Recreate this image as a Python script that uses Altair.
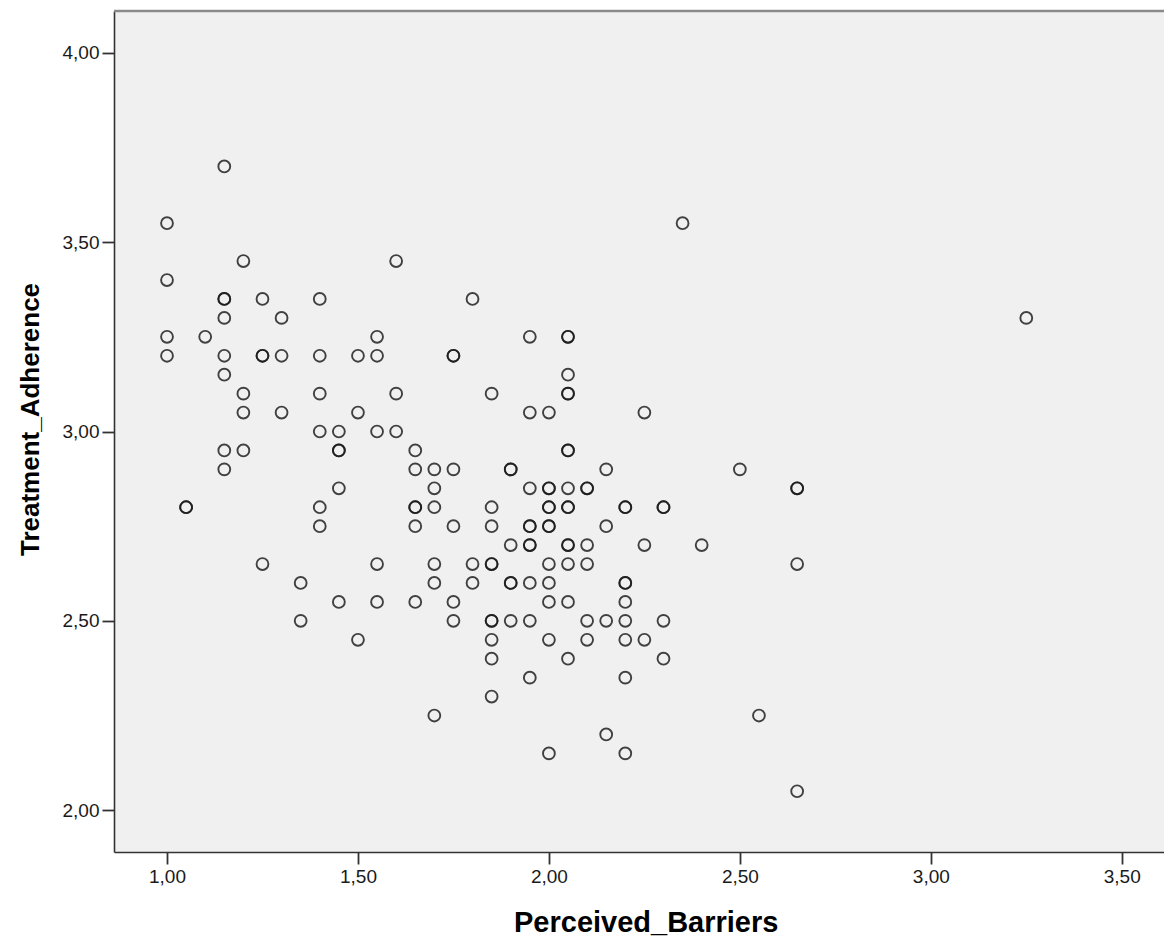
import altair as alt
import pandas as pd

# Scatter data (duplicates = darker/overlapping circles)
perceived_barriers = [
    1.15,
    1.00, 2.35,
    1.20, 1.60,
    1.00,
    1.15, 1.15, 1.25, 1.40, 1.80,
    1.15, 1.30, 3.25,
    1.00, 1.10, 1.55, 1.95, 2.05, 2.05,
    1.00, 1.15, 1.25, 1.25, 1.30, 1.40, 1.50, 1.55, 1.75, 1.75,
    1.15, 2.05,
    1.20, 1.40, 1.60, 1.85, 2.05, 2.05,
    1.20, 1.30, 1.50, 1.95, 2.00, 2.25,
    1.40, 1.45, 1.55, 1.60,
    1.15, 1.20, 1.45, 1.45, 1.65, 2.05, 2.05,
    1.15, 1.65, 1.70, 1.75, 1.90, 1.90, 2.15, 2.50,
    1.45, 1.70, 1.95, 2.00, 2.00, 2.05, 2.10, 2.10, 2.65, 2.65,
    1.05, 1.05, 1.40, 1.65, 1.65, 1.70, 1.85, 2.00, 2.00, 2.05, 2.05, 2.20, 2.20, 2.30, 2.30,
    1.40, 1.65, 1.75, 1.85, 1.95, 1.95, 2.00, 2.00, 2.15,
    1.90, 1.95, 1.95, 2.05, 2.05, 2.10, 2.25, 2.40,
    1.25, 1.55, 1.70, 1.80, 1.85, 1.85, 2.00, 2.05, 2.10, 2.65,
    1.35, 1.70, 1.80, 1.90, 1.90, 1.95, 2.00, 2.20, 2.20,
    1.45, 1.55, 1.65, 1.75, 2.00, 2.05, 2.20,
    1.35, 1.75, 1.85, 1.85, 1.90, 1.95, 2.10, 2.15, 2.20, 2.30,
    1.50, 1.85, 2.00, 2.10, 2.20, 2.25,
    1.85, 2.05, 2.30,
    1.95, 2.20,
    1.85,
    1.70, 2.55,
    2.15,
    2.00, 2.20,
    2.65,
]
treatment_adherence = (
    [3.70]
    + [3.55] * 2
    + [3.45] * 2
    + [3.40] * 1
    + [3.35] * 5
    + [3.30] * 3
    + [3.25] * 6
    + [3.20] * 10
    + [3.15] * 2
    + [3.10] * 6
    + [3.05] * 6
    + [3.00] * 4
    + [2.95] * 7
    + [2.90] * 8
    + [2.85] * 10
    + [2.80] * 15
    + [2.75] * 9
    + [2.70] * 8
    + [2.65] * 10
    + [2.60] * 9
    + [2.55] * 7
    + [2.50] * 10
    + [2.45] * 6
    + [2.40] * 3
    + [2.35] * 2
    + [2.30] * 1
    + [2.25] * 2
    + [2.20] * 1
    + [2.15] * 2
    + [2.05] * 1
)

x_ticks = [1.0, 1.5, 2.0, 2.5, 3.0, 3.5]
y_ticks = [2.0, 2.5, 3.0, 3.5, 4.0]
x_domain = [0.8612, 3.6106]
y_domain = [1.8896, 4.1104]

df = pd.DataFrame({
    "Perceived_Barriers": perceived_barriers,
    "Treatment_Adherence": treatment_adherence,
})

W, H = 1050, 841
label_expr = "replace(format(datum.value, '.2f'), '.', ',')"

common_axis = dict(
    grid=False,
    domainColor="#333333",
    domainWidth=1.6,
    tickColor="#333333",
    tickWidth=1.8,
    tickSize=12,
    labelFont="Liberation Sans",
    labelFontSize=19,
    labelColor="#1a1a1a",
    titleFont="Liberation Sans",
    titleFontWeight="bold",
    titleColor="#000000",
    labelExpr=label_expr,
)

points = alt.Chart(df).mark_point(
    shape="circle", filled=False, size=140, strokeWidth=1.9,
    color="#1a1a1a", opacity=0.82,
).encode(
    x=alt.X(
        "Perceived_Barriers:Q",
        scale=alt.Scale(domain=x_domain, nice=False, zero=False),
        axis=alt.Axis(
            values=x_ticks, title="Perceived_Barriers", labelPadding=3,
            titleFontSize=29,
            titleX=531.7, titleY=79, titleBaseline="alphabetic", titleAlign="center",
            **common_axis,
        ),
    ),
    y=alt.Y(
        "Treatment_Adherence:Q",
        scale=alt.Scale(domain=y_domain, nice=False, zero=False),
        axis=alt.Axis(
            values=y_ticks, title="Treatment_Adherence", labelPadding=3,
            titleFontSize=26,
            titleAngle=270, titleX=-76, titleY=408, titleBaseline="alphabetic", titleAlign="center",
            **common_axis,
        ),
    ),
)

top_line = alt.Chart(pd.DataFrame({"edge": [0]})).mark_rule(
    color="#8a8a8a", strokeWidth=2.5
).encode(x=alt.value(0), x2=alt.value(W), y=alt.value(0))

chart = alt.layer(points, top_line).properties(
    width=W,
    height=H,
    autosize=alt.AutoSizeParams(type="none"),
    padding={"left": 106, "top": 3, "right": 0, "bottom": 87},
    background="#ffffff",
).configure_view(fill="#F0F0F0", stroke="transparent")

chart.save("out.html", embed_options={"renderer": "svg", "actions": False})
